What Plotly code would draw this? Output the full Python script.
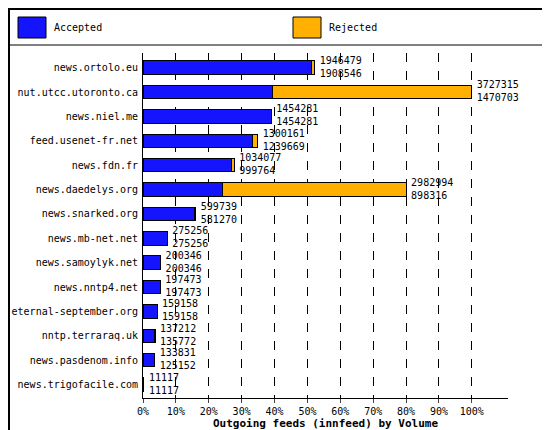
import plotly.graph_objects as go

servers = ["news.ortolo.eu", "nut.utcc.utoronto.ca", "news.niel.me", "feed.usenet-fr.net",
           "news.fdn.fr", "news.daedelys.org", "news.snarked.org", "news.mb-net.net",
           "news.samoylyk.net", "news.nntp4.net", "eternal-september.org", "nntp.terraraq.uk",
           "news.pasdenom.info", "news.trigofacile.com"]
offered = [1946479, 3727315, 1454281, 1300161, 1034077, 2982994, 599739, 275256,
           200346, 197473, 159158, 137212, 133831, 11117]
accepted = [1908546, 1470703, 1454281, 1239669, 999764, 898316, 581270, 275256,
            200346, 197473, 159158, 135772, 125152, 11117]
tick_vals = [0, 10, 20, 30, 40, 50, 60, 70, 80, 90, 100]
tick_text = [f"{v}%" for v in tick_vals]

mx = max(offered)
acc_pct = [a / mx * 100 for a in accepted]
rej_pct = [(o - a) / mx * 100 for o, a in zip(offered, accepted)]
tot_pct = [o / mx * 100 for o in offered]
font = "DejaVu Sans Mono"

L, R, T, B = 135, 50, 45, 40
PW, PH = 550 - L - R, 430 - T - B

def px(x):
    return (x - L) / PW

def py(y):
    return (430 - B - y) / PH

fig = go.Figure()
fig.add_bar(y=servers, x=acc_pct, orientation="h", marker=dict(color="#1414ff", line=dict(color="black", width=1)),
            width=0.55, name="Accepted", hoverinfo="skip")
fig.add_bar(y=servers, x=rej_pct, orientation="h", marker=dict(color="#ffb000", line=dict(color="black", width=1)),
            width=0.55, name="Rejected", hoverinfo="skip")
fig.add_scatter(y=servers, x=[t + 1.5 for t in tot_pct], mode="text",
                text=[f"{o}<br>{a}" for o, a in zip(offered, accepted)],
                textposition="middle right", textfont=dict(family=font, size=10, color="black"),
                showlegend=False, hoverinfo="skip", cliponaxis=False)

fig.update_layout(
    width=550, height=430, barmode="stack", showlegend=False,
    paper_bgcolor="white", plot_bgcolor="white",
    margin=dict(l=L, r=R, t=T, b=B, autoexpand=False),
    font=dict(family=font, size=10, color="black"),
    xaxis=dict(range=[0, 111], tickvals=tick_vals, ticktext=tick_text, showgrid=True, automargin=False,
               gridcolor="black", griddash="dash", gridwidth=1, zeroline=False,
               showline=True, linecolor="black", ticks="outside", ticklen=4,
               title=dict(text="<b>Outgoing feeds (innfeed) by Volume</b>", font=dict(size=11), standoff=2),
               tickfont=dict(size=10)),
    yaxis=dict(range=[13.55, -0.6], showline=True, linecolor="black", ticks="", showgrid=False,
               automargin=False, tickfont=dict(size=10), ticklabelstandoff=2),
    shapes=[
        dict(type="rect", xref="paper", yref="paper", x0=px(1), x1=px(549), y0=py(429), y1=py(1),
             line=dict(color="black", width=2), layer="below"),
        dict(type="line", xref="paper", yref="paper", x0=px(1), x1=px(549), y0=py(37), y1=py(37),
             line=dict(color="black", width=1)),
        dict(type="rect", xref="paper", yref="paper", x0=px(10), x1=px(38), y0=py(30), y1=py(9),
             fillcolor="#1414ff", line=dict(color="black", width=1)),
        dict(type="rect", xref="paper", yref="paper", x0=px(285), x1=px(313), y0=py(30), y1=py(9),
             fillcolor="#ffb000", line=dict(color="black", width=1)),
    ],
    annotations=[
        dict(text="Accepted", xref="paper", yref="paper", x=px(44), y=py(20), showarrow=False,
             xanchor="left", yanchor="middle", font=dict(size=10)),
        dict(text="Rejected", xref="paper", yref="paper", x=px(319), y=py(20), showarrow=False,
             xanchor="left", yanchor="middle", font=dict(size=10)),
    ],
)
fig.write_html("out.html")
